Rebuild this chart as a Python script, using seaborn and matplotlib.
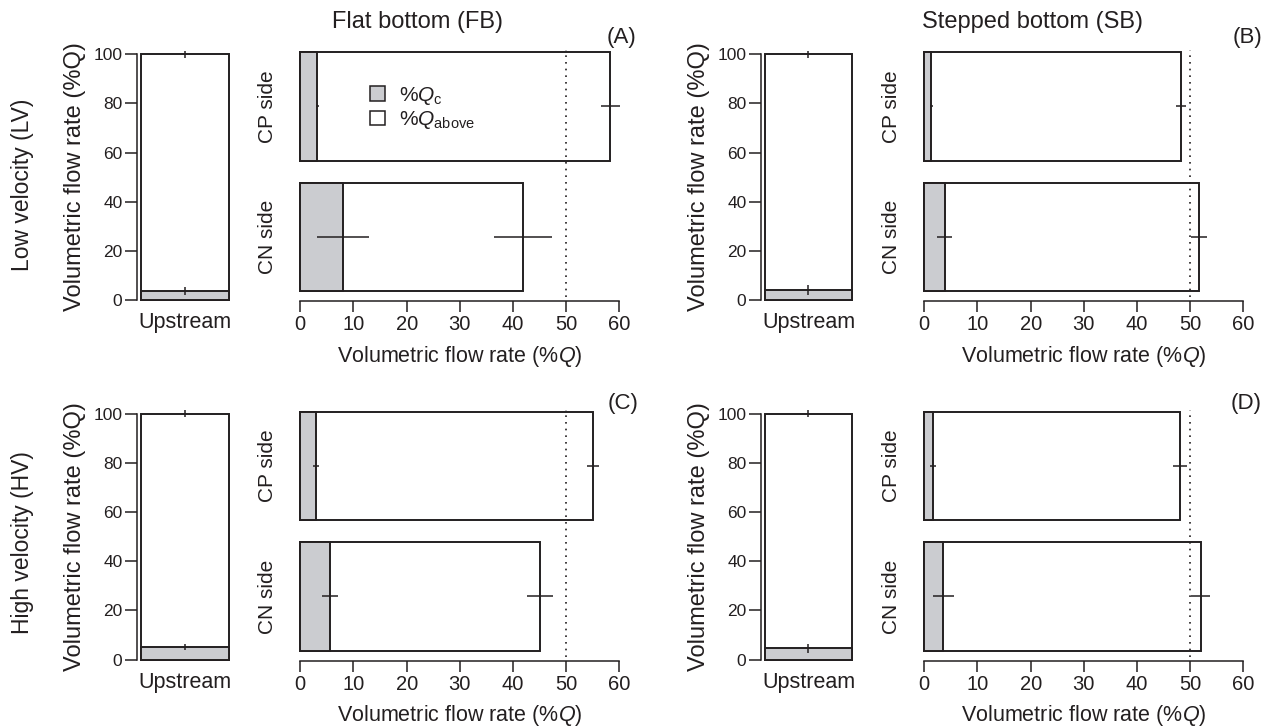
import numpy as np
import pandas as pd
import matplotlib
matplotlib.use("Agg")
import matplotlib.pyplot as plt
import seaborn as sns
from matplotlib.patches import Patch

# ----------------------------
# data (%Q)
# ----------------------------
sides = ["CP side", "CN side"]
panels = ["(A)", "(B)", "(C)", "(D)"]

# upstream bar: %Qc and its error, error of the 100 % total
up_qc = [3.7, 4.1, 5.0, 4.6]
up_qc_err = [1.5, 2.0, 1.3, 1.9]
up_total_err = [1.5, 1.5, 1.5, 1.5]

# CP / CN sides: %Qc and total (%Qc + %Qabove) with errors
side_qc = [[3.2, 8.0], [1.3, 3.8], [2.9, 5.6], [1.6, 3.6]]
side_qc_err = [[0.3, 4.85], [0.3, 1.45], [0.6, 1.5], [0.6, 2.0]]
side_total = [[58.3, 41.9], [48.3, 51.7], [55.0, 45.1], [48.1, 52.0]]
side_total_err = [[1.8, 5.4], [1.0, 1.5], [1.15, 2.5], [1.4, 1.8]]

row_labels = ["Low velocity (LV)", "High velocity (HV)"]
col_labels = ["Flat bottom (FB)", "Stepped bottom (SB)"]

# ----------------------------
# style
# ----------------------------
sns.set_style("white")
plt.rcParams["font.family"] = ["Liberation Sans", "DejaVu Sans"]
plt.rcParams["mathtext.fontset"] = "custom"
plt.rcParams["mathtext.rm"] = "Liberation Sans"
plt.rcParams["mathtext.it"] = "Liberation Sans:italic"
INK = "#231f20"
GREY = "#cbccd0"
LW = 1.4
plt.rcParams["text.color"] = INK
plt.rcParams["axes.labelcolor"] = INK
plt.rcParams["xtick.color"] = INK
plt.rcParams["ytick.color"] = INK

W, H = 1271, 726
fig = plt.figure(figsize=(W / 100, H / 100), dpi=100)


def box(l, t, r, b):
    return [l / W, 1 - b / H, (r - l) / W, (b - t) / H]


def pt(x, y):
    return x / W, 1 - y / H


col_x = [(137, 230, 300.3, 619.3), (761, 853, 924.3, 1243.3)]
row_dy = [0, 359.5]
ylab_x = [75, 699]
letter_xy = [(622, 37), (1248, 38), (623, 404), (1246, 403)]

for r in range(2):
    dy = row_dy[r]
    for c in range(2):
        i = 2 * r + c
        ul, ur, ml, mr = col_x[c]

        # ---- upstream bar ----
        ax = fig.add_axes(box(ul, 54.3 + dy, ur, 300 + dy))
        sns.barplot(x=["Upstream"], y=[100], color="white", edgecolor=INK,
                    linewidth=LW, width=0.946, saturation=1, ax=ax)
        sns.barplot(x=["Upstream"], y=[up_qc[i]], color=GREY, edgecolor=INK,
                    linewidth=LW, width=0.946, saturation=1, ax=ax)
        for p in ax.patches:
            p.set_clip_on(False)
        ax.vlines(0, 100 - up_total_err[i], 100 + up_total_err[i], color=INK,
                  lw=1.1, clip_on=False)
        ax.vlines(0, up_qc[i] - up_qc_err[i], up_qc[i] + up_qc_err[i],
                  color=INK, lw=1.1, clip_on=False)
        ax.set_xlim(-0.516, 0.484)
        ax.set_ylim(0, 100)
        ax.set_yticks(np.arange(0, 101, 20))
        sns.despine(ax=ax, bottom=True)
        ax.spines["left"].set_bounds(0, 100)
        ax.spines["left"].set_linewidth(1.1)
        ax.spines["left"].set_color(INK)
        ax.tick_params(axis="y", direction="out", length=8.5, width=1.1,
                       labelsize=12.5, pad=2, left=True)
        ax.tick_params(axis="x", length=0, labelsize=15.5, pad=9)
        ax.set_xlabel("")
        ax.set_ylabel("")
        fig.text(*pt(ylab_x[c], 177 + dy), "Volumetric flow rate (%Q)",
                 rotation=90, ha="center", va="center", fontsize=17)

        # ---- CP / CN sides ----
        df = pd.DataFrame({"side": sides, "total": side_total[i],
                           "qc": side_qc[i]})
        ax = fig.add_axes(box(ml, 50 + dy, mr, 297 + dy))
        sns.barplot(data=df, x="total", y="side", orient="h", color="white",
                    edgecolor=INK, linewidth=LW, width=0.835, saturation=1,
                    ax=ax)
        sns.barplot(data=df, x="qc", y="side", orient="h", color=GREY,
                    edgecolor=INK, linewidth=LW, width=0.835, saturation=1,
                    ax=ax)
        for p in ax.patches:
            p.set_clip_on(False)
        ax.errorbar(df["total"], [0, 1], xerr=side_total_err[i], fmt="none",
                    ecolor=INK, elinewidth=1.1, capsize=0, clip_on=False)
        ax.errorbar(df["qc"], [0, 1], xerr=side_qc_err[i], fmt="none",
                    ecolor=INK, elinewidth=1.1, capsize=0, clip_on=False)
        ax.axvline(50, color=INK, lw=1.2, ls=(0, (1, 3)))
        ax.set_xlim(0, 60)
        ax.set_ylim(1.46, -0.433)
        ax.set_xticks(np.arange(0, 61, 10))
        sns.despine(ax=ax, left=True)
        ax.spines["bottom"].set_position(("outward", 3))
        ax.spines["bottom"].set_bounds(0, 60)
        ax.spines["bottom"].set_linewidth(1.1)
        ax.spines["bottom"].set_color(INK)
        ax.tick_params(axis="x", direction="out", length=8, width=1.1,
                       labelsize=14.5, pad=2, bottom=True)
        ax.tick_params(axis="y", length=0, labelsize=15, pad=17)
        for lab in ax.get_yticklabels():
            lab.set_rotation(90)
            lab.set_va("center")
            lab.set_ha("right")
        ax.set_ylabel("")
        ax.set_xlabel("Volumetric flow rate (%$Q$)", fontsize=15.5,
                      labelpad=7)

        if i == 0:
            handles = [Patch(facecolor=GREY, edgecolor=INK, lw=1.1),
                       Patch(facecolor="white", edgecolor=INK, lw=1.1)]
            ax.legend(handles, ["%$Q_\\mathrm{c}$", "%$Q_\\mathrm{above}$"],
                      loc="upper left", bbox_to_anchor=pt(370, 85),
                      bbox_transform=fig.transFigure, frameon=False,
                      fontsize=15, handlelength=0.7, handleheight=0.7,
                      handletextpad=0.7, labelspacing=0.1, borderpad=0,
                      borderaxespad=0)

        fig.text(*pt(*letter_xy[i]), panels[i], ha="center", va="center",
                 fontsize=16)

for r in range(2):
    fig.text(*pt(23, 185 + row_dy[r] - 2 * r), row_labels[r], rotation=90,
             ha="center", va="center", fontsize=16.5)
fig.text(*pt(418, 22), col_labels[0], ha="center", va="center", fontsize=17)
fig.text(*pt(1033, 22), col_labels[1], ha="center", va="center", fontsize=17)

fig.savefig("out.png", dpi=100)
